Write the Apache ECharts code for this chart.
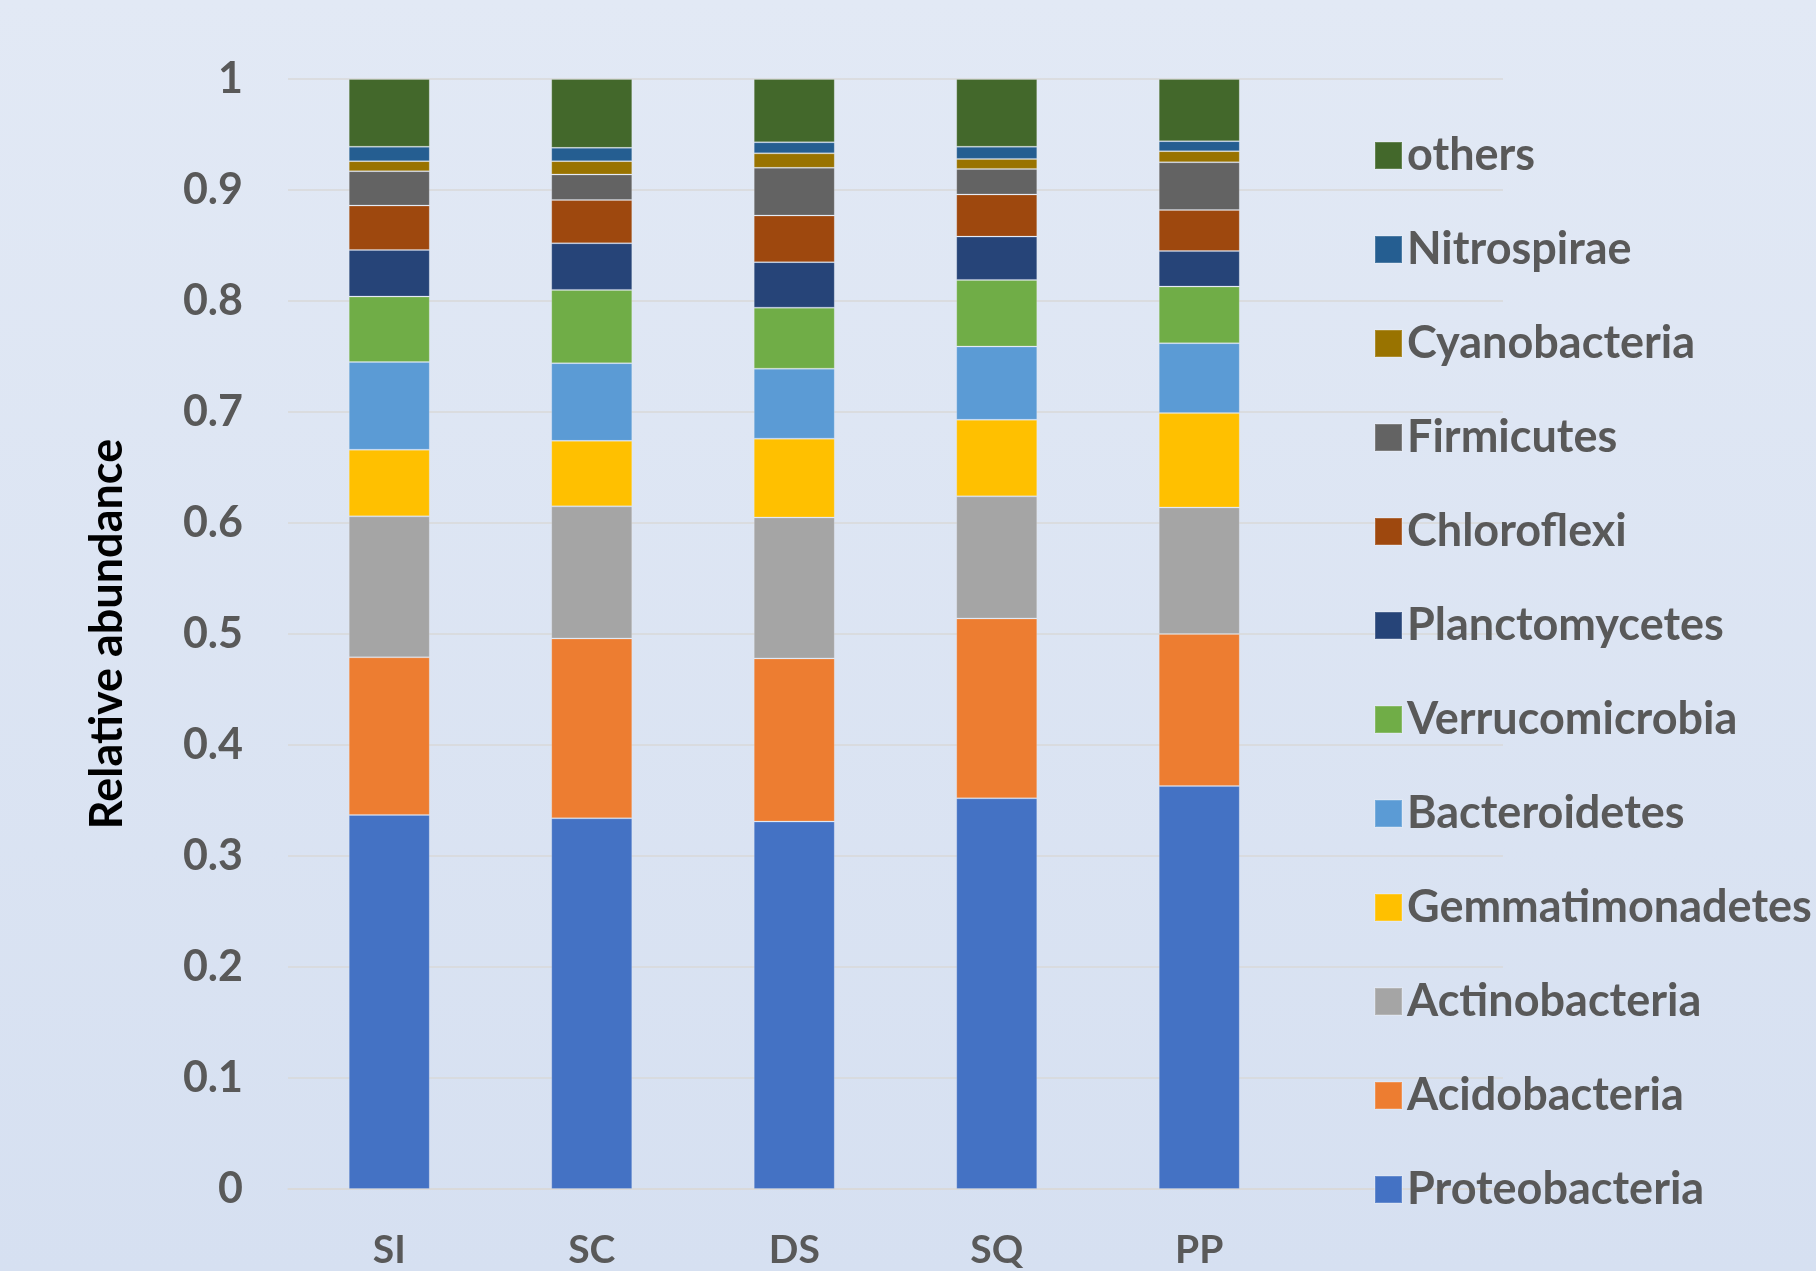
<!DOCTYPE html>
<html>
<head>
<meta charset="utf-8">
<title>Relative abundance of bacterial phyla</title>
<script src="https://cdn.jsdelivr.net/npm/echarts@6/dist/echarts.min.js"></script>
<style>
  html, body { margin: 0; padding: 0; }
  #chart { width: 1816px; height: 1271px; }
</style>
</head>
<body>
<div id="chart"></div>
<script>
// Sample sites along the x axis
const sites = ['SI', 'SC', 'DS', 'SQ', 'PP'];

// Relative abundance of each phylum per site (stacked bottom to top)
const proteobacteria   = [0.337, 0.334, 0.331, 0.352, 0.363];
const acidobacteria    = [0.142, 0.162, 0.147, 0.162, 0.137];
const actinobacteria   = [0.127, 0.119, 0.127, 0.110, 0.114];
const gemmatimonadetes = [0.060, 0.059, 0.071, 0.069, 0.085];
const bacteroidetes    = [0.079, 0.070, 0.063, 0.066, 0.063];
const verrucomicrobia  = [0.059, 0.066, 0.055, 0.060, 0.051];
const planctomycetes   = [0.042, 0.042, 0.041, 0.039, 0.032];
const chloroflexi      = [0.040, 0.039, 0.042, 0.038, 0.037];
const firmicutes       = [0.031, 0.023, 0.043, 0.023, 0.043];
const cyanobacteria    = [0.009, 0.012, 0.013, 0.009, 0.010];
const nitrospirae      = [0.013, 0.012, 0.010, 0.011, 0.009];
const others           = [0.061, 0.062, 0.057, 0.061, 0.056];

// Y axis tick values
const yTicks = [0, 0.1, 0.2, 0.3, 0.4, 0.5, 0.6, 0.7, 0.8, 0.9, 1];

const phyla = [
  { name: 'Proteobacteria',   data: proteobacteria,   color: '#4472C4' },
  { name: 'Acidobacteria',    data: acidobacteria,    color: '#ED7D31' },
  { name: 'Actinobacteria',   data: actinobacteria,   color: '#A5A5A5' },
  { name: 'Gemmatimonadetes', data: gemmatimonadetes, color: '#FFC000' },
  { name: 'Bacteroidetes',    data: bacteroidetes,    color: '#5B9BD5' },
  { name: 'Verrucomicrobia',  data: verrucomicrobia,  color: '#70AD47' },
  { name: 'Planctomycetes',   data: planctomycetes,   color: '#264478' },
  { name: 'Chloroflexi',      data: chloroflexi,      color: '#9E480E' },
  { name: 'Firmicutes',       data: firmicutes,       color: '#636363' },
  { name: 'Cyanobacteria',    data: cyanobacteria,    color: '#997300' },
  { name: 'Nitrospirae',      data: nitrospirae,      color: '#255E91' },
  { name: 'others',           data: others,           color: '#43682B' }
];

const FONT = 'Lato, "Open Sans", sans-serif';
const TEXT_GREY = '#595959';
const GRID_GREY = '#D9D9D9';

// One extra empty slot on the right keeps room under the legend, as in the plot area.
const xSlots = sites.concat(['']);

const chart = echarts.init(document.getElementById('chart'), null, { renderer: 'canvas' });

chart.setOption({
  backgroundColor: new echarts.graphic.LinearGradient(0, 0, 0, 1, [
    { offset: 0, color: '#E2E9F5' },
    { offset: 1, color: '#D6E0F1' }
  ]),
  animation: false,
  grid: { left: 288, top: 79, right: 313, bottom: 82, containLabel: false },
  legend: {
    orient: 'vertical',
    left: 1369,
    top: 128,
    icon: 'rect',
    itemWidth: 27,
    itemHeight: 27,
    itemGap: 49,
    data: phyla.map(p => p.name).reverse(),
    textStyle: {
      fontFamily: FONT,
      fontWeight: 'bold',
      fontSize: 45,
      color: TEXT_GREY,
      padding: [0, 0, 0, 0]
    }
  },
  xAxis: {
    type: 'category',
    data: xSlots,
    axisLine: { show: true, lineStyle: { color: GRID_GREY, width: 1.5 } },
    axisTick: { show: false },
    axisLabel: {
      fontFamily: FONT,
      fontWeight: 'bold',
      fontSize: 39,
      color: TEXT_GREY,
      margin: 42
    }
  },
  yAxis: {
    type: 'value',
    min: yTicks[0],
    max: yTicks[yTicks.length - 1],
    interval: 0.1,
    name: 'Relative abundance',
    nameLocation: 'middle',
    nameRotate: 90,
    nameGap: 158,
    nameTextStyle: {
      fontFamily: FONT,
      fontWeight: 'bold',
      fontSize: 45,
      color: '#000000'
    },
    axisLine: { show: false },
    axisTick: { show: false },
    splitLine: { lineStyle: { color: GRID_GREY, width: 1.5 } },
    axisLabel: {
      fontFamily: FONT,
      fontWeight: 'bold',
      fontSize: 43,
      color: TEXT_GREY,
      margin: 45,
      formatter: v => String(+v.toFixed(1))
    }
  },
  series: phyla.map(p => ({
    name: p.name,
    type: 'bar',
    stack: 'abundance',
    barWidth: '40%',
    data: p.data,
    itemStyle: {
      color: p.color,
      borderColor: 'rgba(255,255,255,0.18)',
      borderWidth: 1
    },
    emphasis: { disabled: true }
  }))
});
</script>
</body>
</html>
